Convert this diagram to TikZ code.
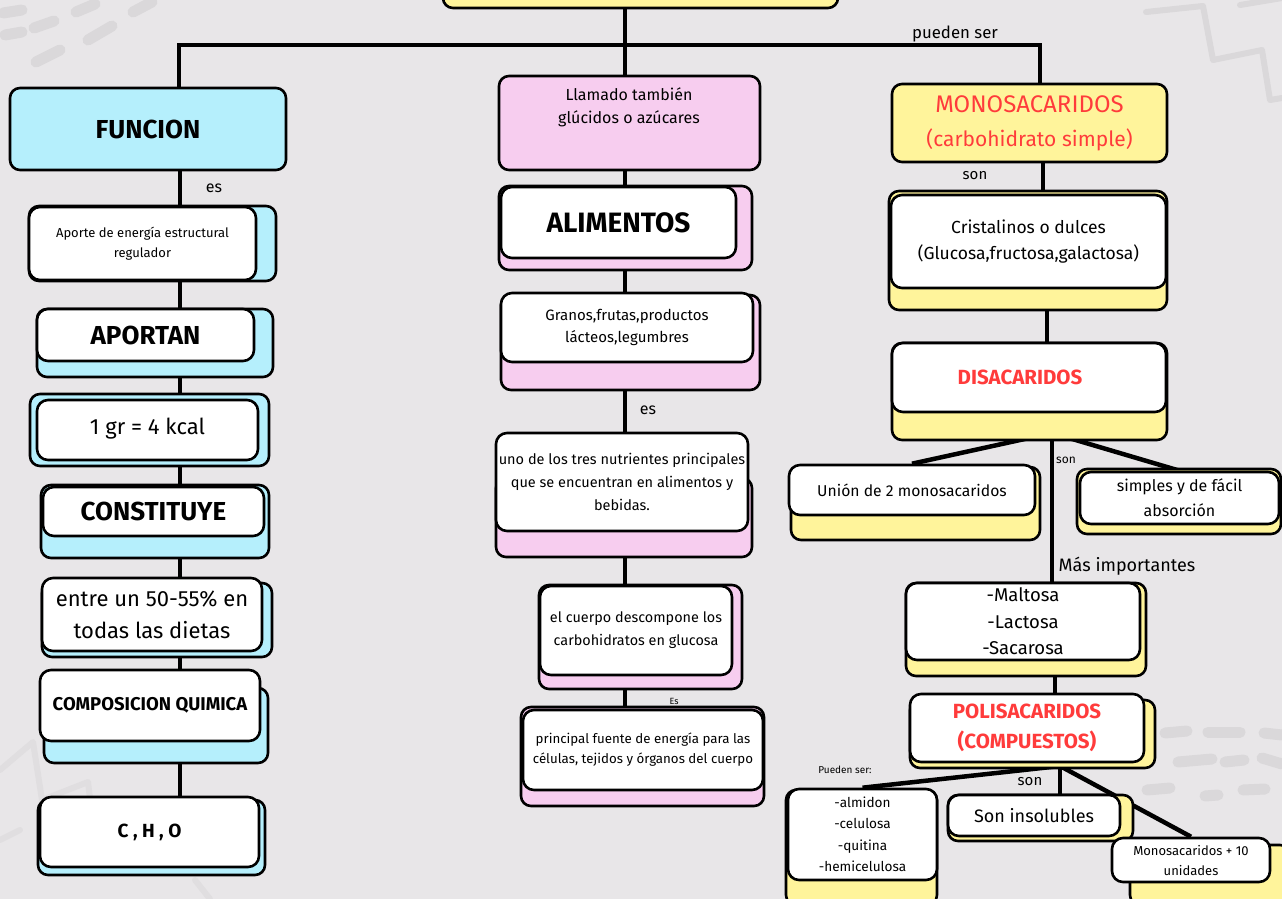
\documentclass[tikz,border=0pt]{standalone}
\usepackage{fontspec}
\setmainfont{Fira Sans}
\definecolor{bgc}{HTML}{E8E6E8}
\definecolor{cy}{HTML}{B5EFFC}
\definecolor{pk}{HTML}{F7CDEF}
\definecolor{yl}{HTML}{FFF49B}
\definecolor{rd}{HTML}{FF3B3B}
\definecolor{deco}{HTML}{DAD8DA}
\pgfdeclarelayer{bg}
\pgfdeclarelayer{lines}
\pgfsetlayers{bg,lines,main}
\newcommand\fz[2]{\fontsize{#1}{#2}\selectfont}
\newcommand\bx[7]{\node[#6, minimum width={(#4-#2)*1pt}, minimum height={(#5-#3)*1pt}] (#1) at ({(#2+#4)/2},{(#3+#5)/2}) {#7};}
\tikzset{
  back/.style={draw, line width=2.6pt, rounded corners=10pt, inner sep=0pt, align=center},
  front/.style={draw, fill=white, line width=2.6pt, rounded corners=11pt, inner sep=0pt, align=center},
  conn/.style={line width=4.5pt},
  lbl/.style={inner sep=0pt},
  decoline/.style={deco, line width=11pt, line cap=round},
  zig/.style={deco, line width=6pt, line cap=round, line join=round}
}
\begin{document}
\begin{tikzpicture}[x=1pt,y=-1pt]
\useasboundingbox (0,0) rectangle (1282,899);
\clip (0,0) rectangle (1282,899);
\begin{pgfonlayer}{bg}
\fill[bgc] (0,0) rectangle (1282,899);
% decorations
\draw[decoline] (3,13) -- (22,10);
\draw[decoline] (76,12) -- (95,4);
\draw[decoline] (133,12) -- (152,2);
\draw[decoline] (5,35) -- (22,32);
\draw[decoline] (34,28) -- (54,21);
\draw[decoline] (88,40) -- (112,26);
\draw[decoline] (36,62) -- (60,50);
\draw[zig] (1146,12) -- (1203,6) -- (1213,60) -- (1262,50) -- (1270,100) -- (1282,98);
\draw[zig] (1240,5) -- (1282,-2);
\draw[zig, deco!60!bgc] (0,770) -- (33,742) -- (42,800) -- (88,782) -- (95,840);
\draw[zig, deco!60!bgc] (0,840) -- (20,830);
\draw[zig, deco!60!bgc] (195,880) -- (210,899);
\draw[decoline] (1165,733) -- (1187,731);
\draw[decoline] (1208,732) -- (1240,732);
\draw[decoline] (1264,733) -- (1282,735);
\draw[decoline] (1178,762) -- (1212,759);
\draw[decoline] (1225,762) -- (1244,760);
\draw[decoline] (1262,758) -- (1282,764);
\draw[decoline] (1147,790) -- (1170,788);
\draw[decoline] (1205,796) -- (1218,795);
\draw[decoline] (1243,790) -- (1265,789);
\end{pgfonlayer}

% ---------------- top
\bx{top}{443}{-40}{838}{8}{back,fill=yl}{}

% ---------------- left column
\bx{funcion}{10}{88}{286}{170}{back,fill=cy,font=\fz{26}{30}\bfseries}{FUNCION}
\bx{aporte-b}{29}{206}{276}{281}{back,fill=cy}{}
\bx{aporte}{29}{207}{256}{280}{front,font=\fz{13}{20}}{Aporte de energía estructural\\regulador}
\bx{aportan-b}{37}{309}{273}{377}{back,fill=cy}{}
\bx{aportan}{37}{309}{254}{361}{front,font=\fz{26}{30}\bfseries}{APORTAN}
\bx{kcal-b}{30}{394}{269}{466}{back,fill=cy}{}
\bx{kcal}{37}{400}{258}{460}{front,font=\fz{22}{26}}{\raisebox{7pt}{1 gr = 4 kcal}}
\bx{const-b}{41}{485}{269}{558}{back,fill=cy}{}
\bx{const}{43}{487}{264}{536}{front,font=\fz{26}{30}\bfseries}{CONSTITUYE}
\bx{entre-b}{42}{583}{272}{657}{back,fill=cy}{}
\bx{entre}{42}{578}{262}{651}{front,font=\fz{22}{32}}{entre un 50-55\% en\\todas las dietas}
\bx{comp-b}{44}{688}{268}{763}{back,fill=cy}{}
\bx{comp}{40}{670}{260}{741}{front,font=\fz{18.5}{22}\bfseries}{COMPOSICION QUIMICA}
\bx{cho-b}{38}{800}{265}{875}{back,fill=cy}{}
\bx{cho}{40}{797}{259}{867}{front,font=\fz{19}{22}\bfseries}{C , H , O}

% ---------------- middle column
\bx{llam}{499}{76}{760}{170}{back,fill=pk}{}
\node[lbl, align=center, font=\fz{16}{23}] (llamt) at (629,107) {Llamado también\\glúcidos o azúcares};
\bx{alim-b}{499}{186}{752}{270}{back,fill=pk}{}
\bx{alim}{501}{187}{736}{258}{front,font=\fz{28}{32}\bfseries}{ALIMENTOS}
\bx{gran-b}{501}{295}{760}{390}{back,fill=pk}{}
\bx{gran}{501}{293}{753}{362}{front,font=\fz{15}{22}}{Granos,frutas,productos\\lácteos,legumbres}
\bx{uno-b}{496}{478}{752}{557}{back,fill=pk}{}
\bx{uno}{496}{433}{748}{531}{front,font=\fz{14.5}{23}}{uno de los tres nutrientes principales\\que se encuentran en alimentos y\\bebidas.}
\bx{cuer-b}{539}{585}{742}{689}{back,fill=pk}{}
\bx{cuer}{540}{586}{732}{675}{front,font=\fz{14.4}{23}}{el cuerpo descompone los\\carbohidratos en glucosa}
\bx{prin-b}{521}{707}{764}{806}{back,fill=pk}{}
\bx{prin}{523}{710}{763}{790}{front,font=\fz{13.3}{20}}{principal fuente de energía para las\\células, tejidos y órganos del cuerpo}

% ---------------- right column
\bx{mono}{892}{84}{1167}{162}{back,fill=yl,text=rd,font=\fz{21}{34}}{\fz{24}{34}MONOSACARIDOS\\(carbohidrato simple)}
\bx{crist-b}{889}{191}{1167}{310}{back,fill=yl}{}
\bx{crist}{891}{195}{1166}{288}{front,font=\fz{17.5}{26}}{Cristalinos o dulces\\(Glucosa,fructosa,galactosa)}
\bx{disa-b}{892}{343}{1167}{440}{back,fill=yl}{}
\bx{disa}{892}{343}{1166}{412}{front,text=rd,font=\fz{20.5}{24}\bfseries}{\hspace*{-18pt}DISACARIDOS}
\bx{union-b}{791}{467}{1040}{540}{back,fill=yl}{}
\bx{union}{789}{465}{1035}{515}{front,font=\fz{15.7}{18}}{Unión de 2 monosacaridos}
\bx{simp-b}{1077}{469}{1281}{534}{back,fill=yl}{}
\bx{simp}{1080}{472}{1279}{524}{front,font=\fz{16}{25}}{simples y de fácil\\absorción}
\bx{malt-b}{906}{583}{1146}{676}{back,fill=yl}{}
\bx{malt}{906}{583}{1140}{660}{front,font=\fz{18.5}{26.5}}{-Maltosa\\-Lactosa\\-Sacarosa}
\bx{poli-b}{910}{700}{1155}{768}{back,fill=yl}{}
\bx{poli}{910}{694}{1144}{762}{front,text=rd,font=\fz{20.5}{30}\bfseries}{POLISACARIDOS\\(COMPUESTOS)}
\bx{almi-b}{786}{790}{937}{905}{back,fill=yl}{}
\bx{almi}{788}{789}{937}{880}{front,font=\fz{13.6}{21.5}}{-almidon\\-celulosa\\-quitina\\-hemicelulosa}
\bx{inso-b}{948}{795}{1133}{841}{back,fill=yl}{}
\bx{inso}{948}{795}{1120}{836}{front,font=\fz{18}{20}}{Son insolubles}
\bx{m10-b}{1130}{845}{1290}{905}{back,fill=yl}{}
\bx{m10}{1112}{838}{1270}{882}{front,font=\fz{13}{20}}{Monosacaridos + 10\\unidades}

% ---------------- labels
\node[lbl, font=\fz{16.8}{18}] (l-pueden) at (955,34) {pueden ser};
\node[lbl, font=\fz{16}{18}] (l-es1) at (214,188) {es};
\node[lbl, font=\fz{16}{18}] (l-es2) at (648,410) {es};
\node[lbl, font=\fz{9}{11}] (l-es3) at (674,701) {Es};
\node[lbl, font=\fz{15}{17}] (l-son1) at (975,176) {son};
\node[lbl, font=\fz{12}{13}] (l-son2) at (1066,460) {son};
\node[lbl, font=\fz{18}{20}] (l-mas) at (1127,566) {Más importantes};
\node[lbl, font=\fz{10}{11}] (l-pueden2) at (845,770) {Pueden ser:};
\node[lbl, font=\fz{15}{17}] (l-son3) at (1030,782) {son};

% ---------------- connectors
\coordinate (j) at (625,45);
\coordinate (jl) at (179,45);
\coordinate (jr) at (1040,45);
\coordinate (L) at (180,0);
\coordinate (M) at (625,0);
\coordinate (R1) at (1043,0);
\coordinate (R2) at (1047,0);
\coordinate (R3) at (1055,0);
\coordinate (dj) at (1052,433);
\coordinate (pj) at (1060,766);
\begin{pgfonlayer}{lines}
\draw[conn] (j |- top.center) -- (j) -- (j |- llam.center);
\draw[conn, line join=miter] (jl |- funcion.center) -- (jl) -- (jr) -- (jr |- mono.center);
% left
\draw[conn] (L |- funcion.center) -- (L |- aporte.center);
\draw[conn] (L |- aporte.center) -- (L |- aportan.center);
\draw[conn] (L |- aportan.center) -- (L |- kcal.center);
\draw[conn] (L |- kcal.center) -- (L |- const.center);
\draw[conn] (L |- const.center) -- (L |- entre.center);
\draw[conn] (L |- entre.center) -- (L |- comp.center);
\draw[conn] (L |- comp.center) -- (L |- cho.center);
% middle
\draw[conn] (M |- llam.center) -- (M |- alim.center);
\draw[conn] (M |- alim.center) -- (M |- gran.center);
\draw[conn] (M |- gran.center) -- (M |- uno.center);
\draw[conn] (M |- uno.center) -- (M |- cuer.center);
\draw[conn] (M |- cuer.center) -- (M |- prin.center);
% right
\draw[conn] (R1 |- mono.center) -- (R1 |- crist.center);
\draw[conn] (R2 |- crist.center) -- (R2 |- disa.center);
\draw[conn] (dj |- disa.center) -- (dj);
\draw[conn] (dj) -- (union.north);
\draw[conn] (dj) -- (simp.north);
\draw[conn] (dj) -- (dj |- malt.center);
\draw[conn] (R3 |- malt.center) -- (R3 |- poli.center);
\draw[conn] (pj |- poli.center) -- (pj);
\draw[conn] (pj) -- (almi.north);
\draw[conn] (pj) -- (pj |- inso.center);
\draw[conn] (pj) -- (m10.north);
\end{pgfonlayer}
\end{tikzpicture}
\end{document}
